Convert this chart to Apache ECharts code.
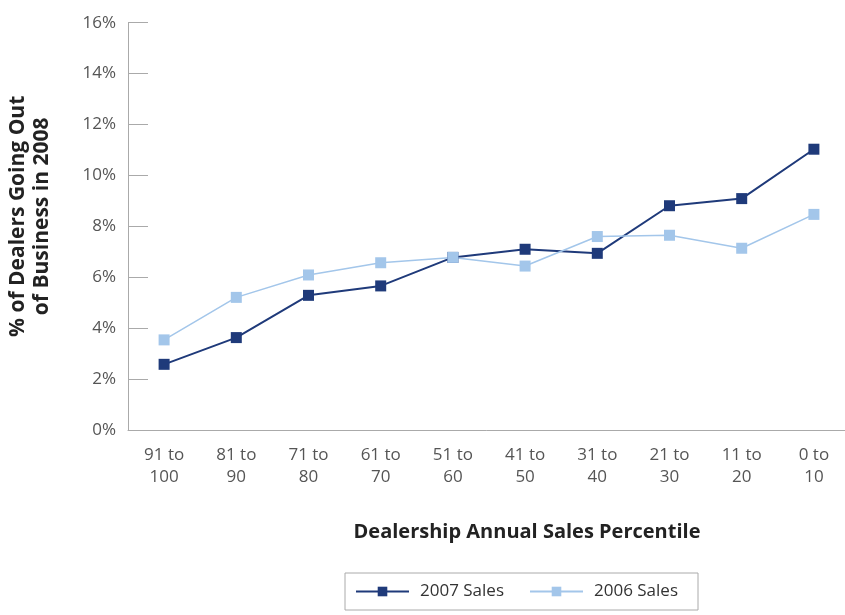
<!DOCTYPE html>
<html>
<head>
<meta charset="utf-8">
<script src="https://cdn.jsdelivr.net/npm/echarts@6/dist/echarts.min.js"></script>
<style>html,body{margin:0;padding:0;background:#fff}#c{width:845px;height:615px}</style>
</head>
<body>
<div id="c"></div>
<script>
const categories = ['91 to\n100','81 to\n90','71 to\n80','61 to\n70','51 to\n60','41 to\n50','31 to\n40','21 to\n30','11 to\n20','0 to\n10'];
const sales2007 = [2.58, 3.63, 5.29, 5.66, 6.78, 7.10, 6.94, 8.81, 9.09, 11.03];
const sales2006 = [3.54, 5.21, 6.09, 6.57, 6.78, 6.44, 7.60, 7.65, 7.14, 8.47];
const yTicks = [0, 2, 4, 6, 8, 10, 12, 14, 16];

const FONT = 'Open Sans';
const chart = echarts.init(document.getElementById('c'), null, {renderer: 'canvas'});
chart.setOption({
  animation: false,
  backgroundColor: '#fff',
  textStyle: {fontFamily: FONT},
  title: {
    text: 'Dealership Annual Sales Percentile',
    left: 522, top: 517, textAlign: 'center',
    textStyle: {fontFamily: FONT, fontSize: 20, fontWeight: 'bold', color: '#222'}
  },
  legend: {
    left: 345, top: 573,
    padding: [10, 20, 10, 10],
    borderColor: '#aaa', borderWidth: 1,
    itemWidth: 53, itemHeight: 12, itemGap: 25,
    textStyle: {fontFamily: FONT, fontSize: 17, color: '#333', padding: [0, 0, 0, 6]},
    data: ['2007 Sales', '2006 Sales']
  },
  grid: {left: 128, top: 22.7, bottom: 185, width: 722, outerBoundsMode: 'none', containLabel: false},
  xAxis: {
    type: 'category',
    data: categories,
    boundaryGap: true,
    axisLine: {lineStyle: {color: '#aaa', width: 1}},
    axisTick: {inside: true, length: 13, lineStyle: {color: '#aaa'}},
    axisLabel: {fontFamily: FONT, fontSize: 17, color: '#555', lineHeight: 22, margin: 14, interval: 0}
  },
  yAxis: {
    type: 'value', min: yTicks[0], max: yTicks[yTicks.length - 1], interval: 2,
    name: '% of Dealers Going Out\nof Business in 2008',
    nameLocation: 'middle', nameRotate: 90, nameGap: 74,
    nameTextStyle: {fontFamily: FONT, fontSize: 21, fontWeight: 'bold', color: '#222', lineHeight: 24, padding: [0, 0, 0, 20]},
    axisLine: {show: true, lineStyle: {color: '#aaa', width: 1}},
    axisTick: {show: true, inside: true, length: 20, lineStyle: {color: '#aaa'}},
    splitLine: {show: false},
    axisLabel: {fontFamily: FONT, fontSize: 17, color: '#555', margin: 12, formatter: '{value}%'}
  },
  series: [
    {
      name: '2007 Sales', type: 'line', data: sales2007,
      symbol: 'rect', symbolSize: 11,
      lineStyle: {color: '#1f3a7a', width: 2},
      itemStyle: {color: '#1f3a7a'}
    },
    {
      name: '2006 Sales', type: 'line', data: sales2006,
      symbol: 'rect', symbolSize: 11,
      lineStyle: {color: '#a3c6ea', width: 1.5},
      itemStyle: {color: '#a3c6ea'}
    }
  ]
});
</script>
</body>
</html>
